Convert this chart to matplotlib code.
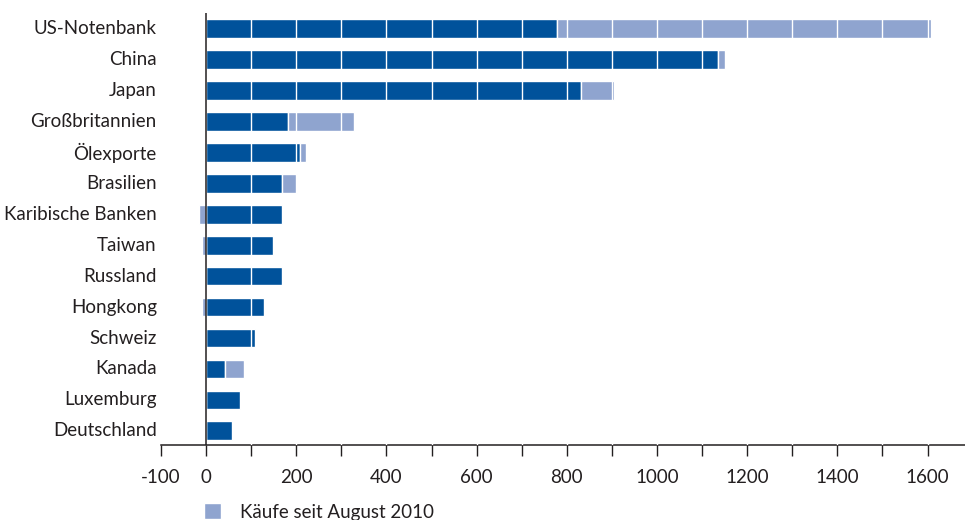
import numpy as np
import matplotlib
matplotlib.use("Agg")
import matplotlib.pyplot as plt

# --------------------
# Data (Mrd. US-Dollar)
# --------------------
countries = ["US-Notenbank", "China", "Japan", "Großbritannien", "Ölexporte",
             "Brasilien", "Karibische Banken", "Taiwan", "Russland", "Hongkong",
             "Schweiz", "Kanada", "Luxemburg", "Deutschland"]
bestand = [778, 1136, 831, 182, 209, 169, 169, 149, 169, 129, 109, 43, 76, 57]
kaeufe = [829, 14, 73, 146, 13, 33, -16, -10, 0, -10, 0, 40, 0, 0]

xticks = np.arange(-100, 1700, 100)
xticklabels = ["-100", "0", "", "200", "", "400", "", "600", "", "800", "", "1000",
               "", "1200", "", "1400", "", "1600"]

dark = "#00529b"
light = "#8fa4cf"
text_col = "#231f20"

plt.rcParams['font.family'] = ['Lato', 'DejaVu Sans']

fig = plt.figure(figsize=(9.65, 5.2), dpi=100)
ax = fig.add_axes([161 / 965, 1 - 445 / 520, 1 - 161 / 965, 432 / 520])

y = np.arange(len(countries))
kaeufe_left = [b if k > 0 else 0 for b, k in zip(bestand, kaeufe)]

ax.barh(y, bestand, height=0.6, color=dark, edgecolor="white", linewidth=1.0, zorder=2)
ax.barh(y, kaeufe, left=kaeufe_left, height=0.6, color=light, edgecolor="white",
        linewidth=1.0, zorder=2, label="Käufe seit August 2010")

# white grid lines across the bars
for xv in xticks[2:]:
    ax.axvline(xv, color="white", linewidth=1.0, zorder=3)
ax.axvline(0, color=text_col, linewidth=1.1, zorder=4)

ax.set_xlim(-100, 1683)
ax.set_ylim(len(countries) - 0.54, -0.51)

ax.set_yticks(y)
ax.set_yticklabels(countries, fontsize=13.5, color=text_col)
ax.tick_params(axis="y", length=0, pad=3)
for lbl in ax.get_yticklabels():
    lbl.set_verticalalignment("center")

ax.set_xticks(xticks)
ax.set_xticklabels(xticklabels, fontsize=13.5, color=text_col)
ax.tick_params(axis="x", length=8, width=1, color=text_col, pad=9, direction="out")

for s in ["top", "right", "left"]:
    ax.spines[s].set_visible(False)
ax.spines["bottom"].set_color(text_col)
ax.spines["bottom"].set_linewidth(1.1)

ax.legend(loc="center left", bbox_to_anchor=(204 / 965, 1 - 512 / 520),
          bbox_transform=fig.transFigure, frameon=False, fontsize=13.5,
          handlelength=0.9, handleheight=0.9, handletextpad=1.0,
          borderpad=0, borderaxespad=0, labelcolor=text_col)

plt.savefig("out.png", dpi=100)
